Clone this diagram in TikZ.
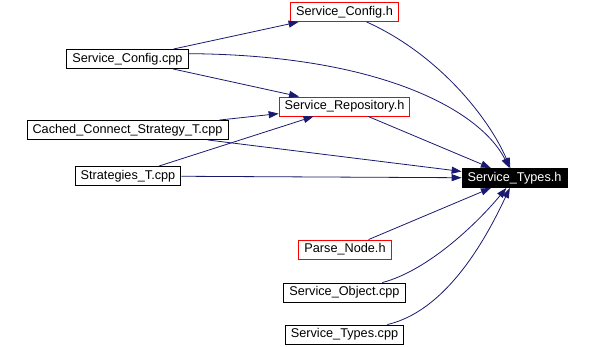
\documentclass[tikz,border=0pt]{standalone}
\usepackage{fontspec}
\setmainfont{Liberation Sans}
\usetikzlibrary{arrows.meta}

\definecolor{edgeblue}{HTML}{191970}

\begin{document}
\begin{tikzpicture}[x=1pt, y=-1pt,
		file/.style={draw=black, fill=white, line width=0.9pt, inner xsep=5.5pt, inner ysep=0pt,
			minimum height=19pt, font=\fontsize{12.7}{15}\selectfont},
		hdr/.style={file, draw=red},
		cur/.style={file, draw=black, fill=black, text=white},
		dep/.style={draw=edgeblue, line width=0.8pt, -{Triangle[length=10pt, width=7pt]}}]
			\useasboundingbox (0, 0) rectangle (593, 347);
			% the headers and sources
			\node[hdr] (cfgh) at (344.5, 12) {Service\_Config.h};
			\node[file] (cfgcpp) at (127.5, 59) {Service\_Config.cpp};
			\node[hdr] (repoh) at (344.5, 106.5) {Service\_Repository.h};
			\node[file] (cached) at (127.5, 130) {Cached\_Connect\_Strategy\_T.cpp};
			\node[file] (strat) at (128, 176) {Strategies\_T.cpp};
			\node[cur] (typesh) at (514.5, 178) {Service\_Types.h};
			\node[hdr] (parseh) at (345, 249.5) {Parse\_Node.h};
			\node[file] (objcpp) at (344.5, 292.5) {Service\_Object.cpp};
			\node[file] (typescpp) at (344.5, 334.5) {Service\_Types.cpp};
			% straight includes
			\foreach \a/\b in {cfgcpp/cfgh, cfgcpp/repoh, cached/repoh, strat/repoh,
					cached/typesh, strat/typesh, repoh/typesh, parseh/typesh}
				\draw[dep] (\a) -- (\b);
			% curved includes
			\draw[dep] (cfgh) .. controls (440, 55) and (490, 120) .. (typesh);
			\draw[dep] (cfgcpp.5) .. controls (380, 55) and (480, 110) .. (typesh);
			\draw[dep] (objcpp) .. controls (430, 270) and (480, 220) .. (typesh);
			\draw[dep] (typescpp) .. controls (450, 310) and (490, 230) .. (typesh);
		\end{tikzpicture}
\end{document}
